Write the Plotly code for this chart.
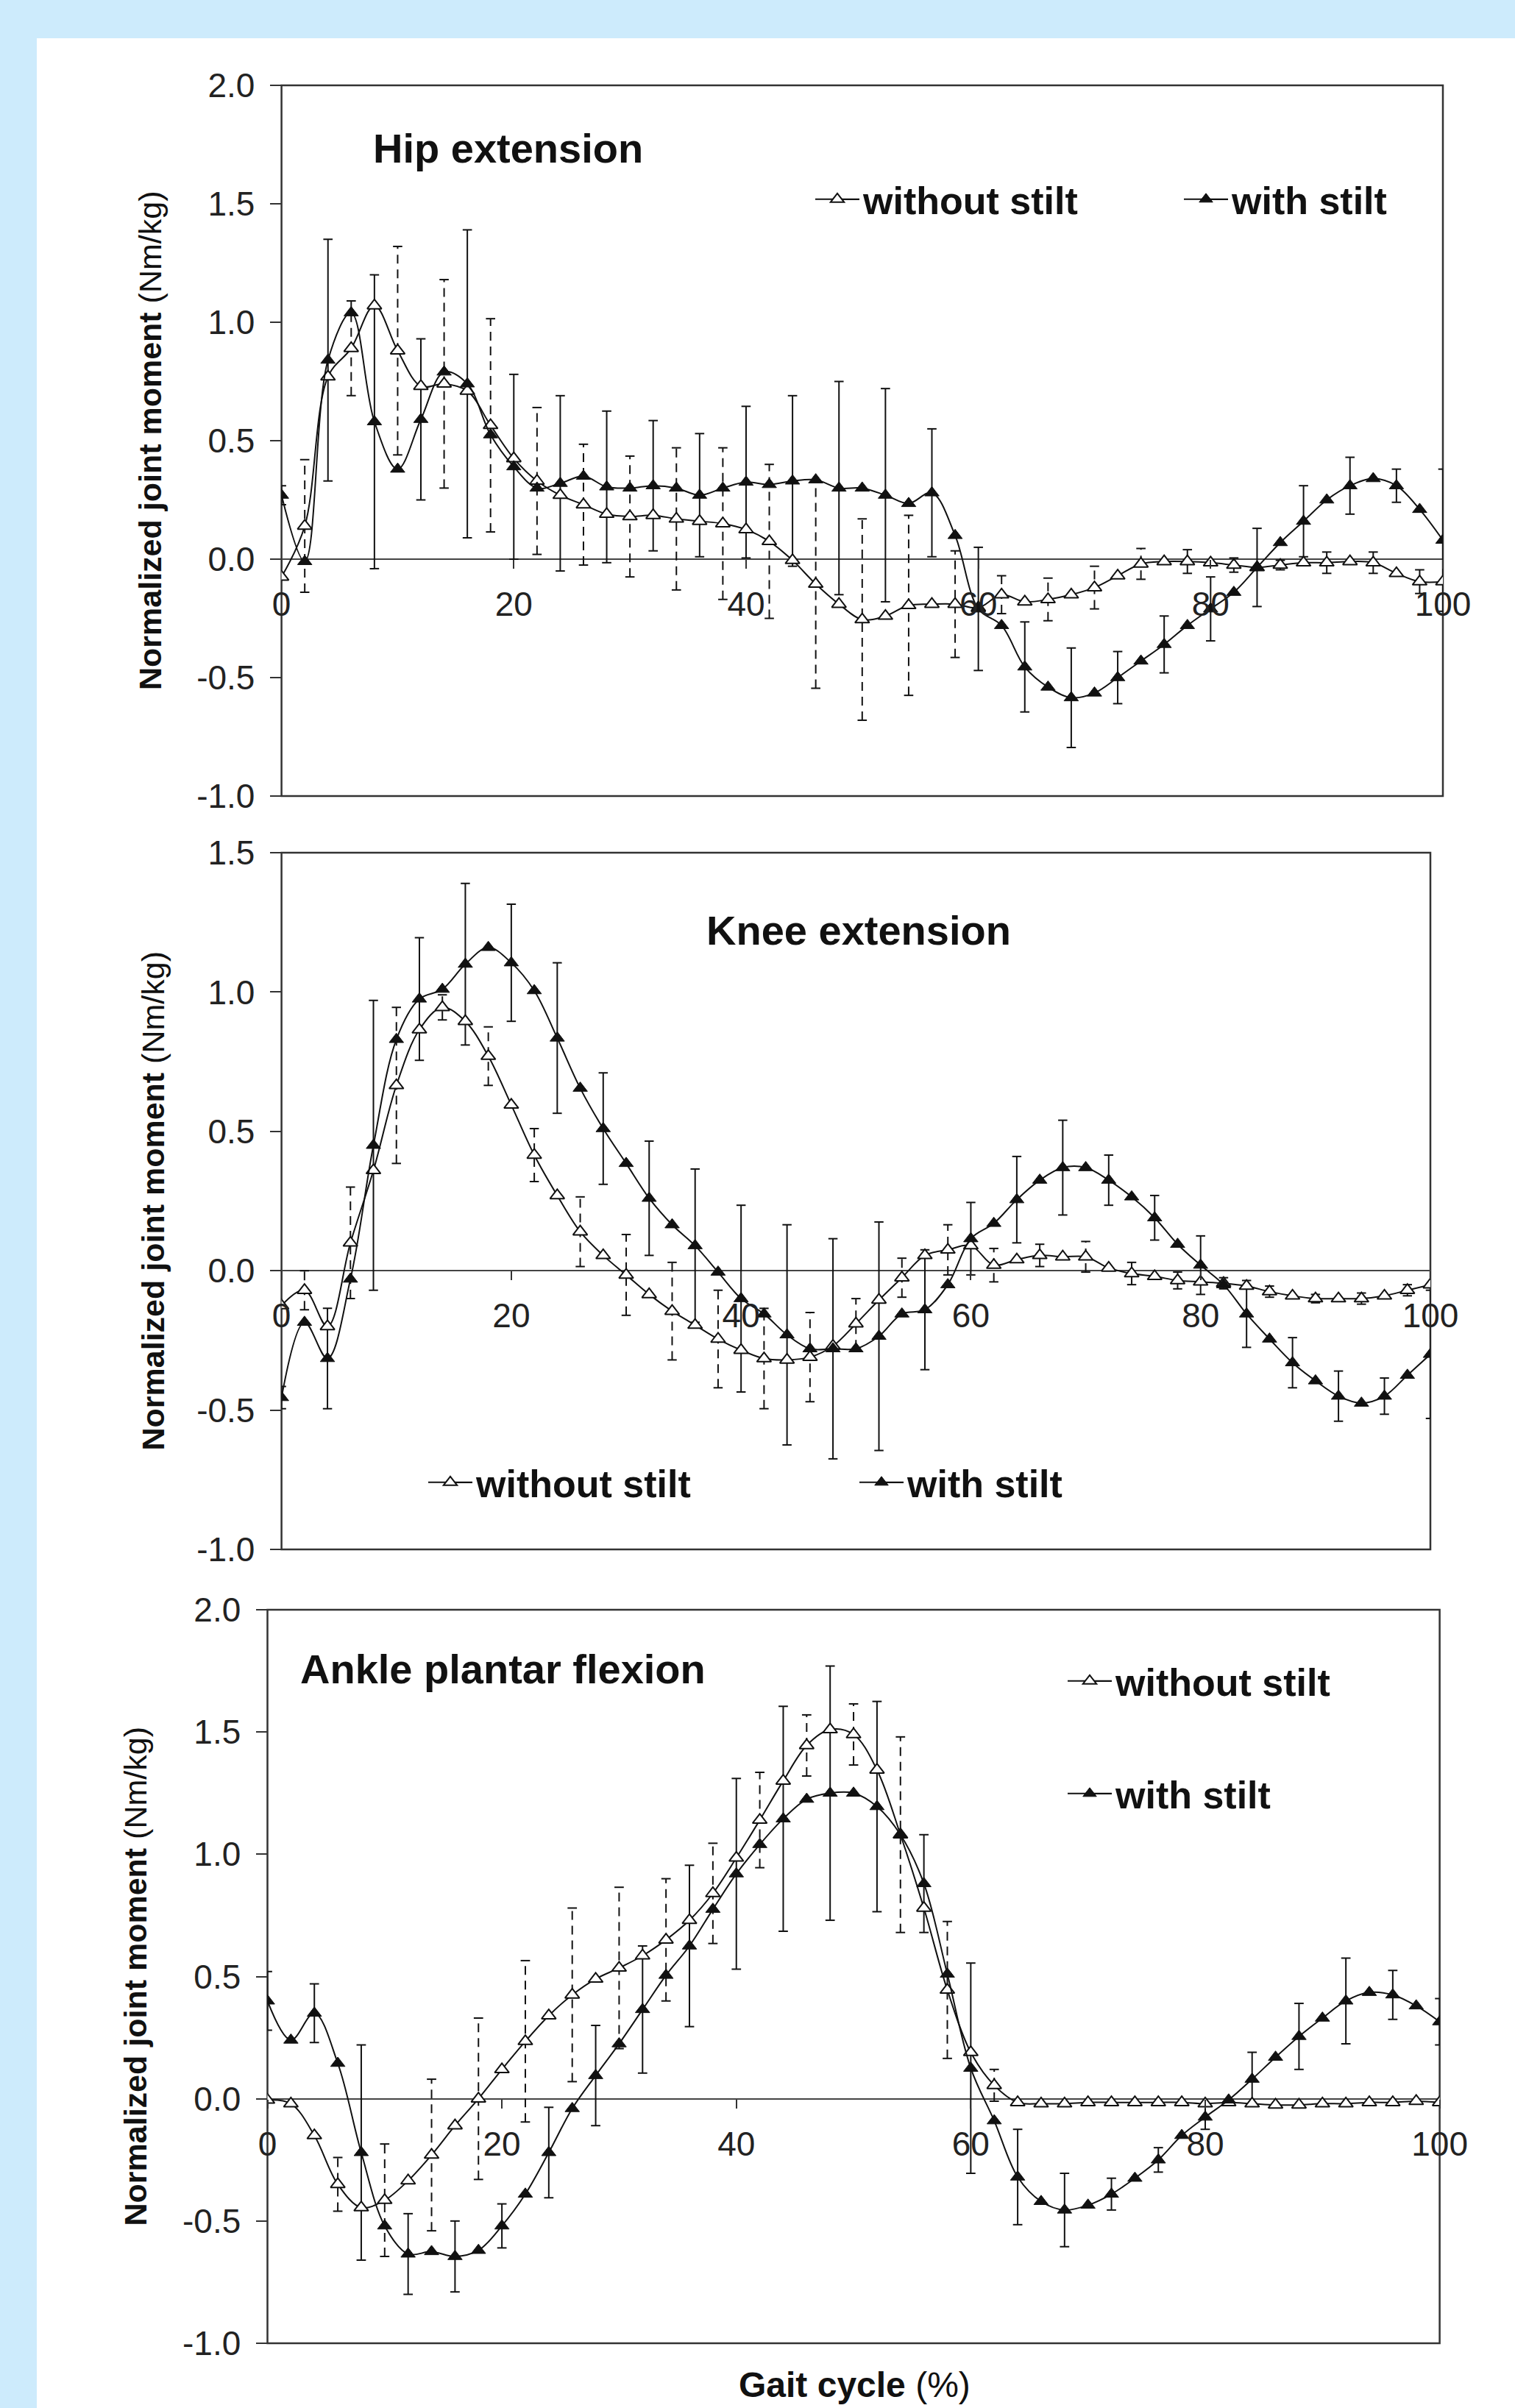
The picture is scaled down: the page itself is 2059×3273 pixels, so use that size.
import plotly.graph_objects as go

W, H = 2059, 3273

# ---------------- data ----------------
gait = list(range(0, 101, 2))          # gait cycle (%) sample points
x_tickvals = [0, 20, 40, 60, 80, 100]
x_ticktext = ["0", "20", "40", "60", "80", "100"]

y_tickvals_a = [-1.0, -0.5, 0.0, 0.5, 1.0, 1.5, 2.0]
y_ticktext_a = ["-1.0", "-0.5", "0.0", "0.5", "1.0", "1.5", "2.0"]
y_tickvals_b = [-1.0, -0.5, 0.0, 0.5, 1.0, 1.5]
y_ticktext_b = ["-1.0", "-0.5", "0.0", "0.5", "1.0", "1.5"]

N = None
# Hip extension
hip_without = [-0.075, 0.14, 0.77, 0.89, 1.07, 0.88, 0.73, 0.74, 0.71, 0.565, 0.425,
               0.33, 0.27, 0.23, 0.19, 0.18, 0.185, 0.17, 0.16, 0.15, 0.125,
               0.075, -0.005, -0.105, -0.19, -0.255, -0.24, -0.195, -0.19, -0.19, -0.205,
               -0.15, -0.18, -0.17, -0.15, -0.12, -0.07, -0.02, -0.01, -0.01, -0.015,
               -0.025, -0.035, -0.025, -0.015, -0.015, -0.01, -0.015, -0.06, -0.095, -0.095]
hip_without_sd = [N, 0.28, N, 0.20, N, 0.44, N, 0.44, N, 0.45, N,
                  0.31, N, 0.255, N, 0.255, N, 0.30, N, 0.32, N,
                  0.325, N, 0.44, N, 0.425, N, 0.38, N, 0.225, N,
                  0.08, N, 0.09, N, 0.09, N, 0.065, N, 0.05, N,
                  0.03, N, 0.02, N, 0.045, N, 0.045, N, 0.05, N]
hip_with = [0.27, -0.01, 0.84, 1.04, 0.58, 0.38, 0.59, 0.79, 0.74, 0.525, 0.39,
            0.30, 0.32, 0.35, 0.305, 0.30, 0.31, 0.30, 0.27, 0.30, 0.325,
            0.315, 0.33, 0.335, 0.30, 0.30, 0.27, 0.235, 0.28, 0.10, -0.21,
            -0.28, -0.455, -0.54, -0.585, -0.565, -0.50, -0.43, -0.36, -0.28, -0.21,
            -0.14, -0.035, 0.07, 0.16, 0.25, 0.31, 0.34, 0.31, 0.21, 0.08]
hip_with_sd = [0.04, N, 0.51, N, 0.62, N, 0.34, N, 0.65, N, 0.39,
               N, 0.37, N, 0.32, N, 0.275, N, 0.26, N, 0.32,
               N, 0.36, N, 0.45, N, 0.45, N, 0.27, N, 0.26,
               N, 0.19, N, 0.21, N, 0.11, N, 0.12, N, 0.135,
               N, 0.165, N, 0.15, N, 0.12, N, 0.07, N, 0.30]

# Knee extension
knee_without = [-0.125, -0.07, -0.20, 0.10, 0.36, 0.665, 0.865, 0.945, 0.895, 0.77, 0.595,
                0.415, 0.27, 0.14, 0.055, -0.015, -0.085, -0.145, -0.195, -0.245, -0.285,
                -0.315, -0.32, -0.31, -0.27, -0.19, -0.105, -0.025, 0.055, 0.075, 0.09,
                0.02, 0.04, 0.055, 0.05, 0.05, 0.01, -0.01, -0.02, -0.035, -0.04,
                -0.045, -0.055, -0.075, -0.09, -0.10, -0.10, -0.10, -0.09, -0.07, -0.05]
knee_without_sd = [N, 0.07, N, 0.20, N, 0.28, N, 0.045, N, 0.105, N,
                   0.095, N, 0.125, N, 0.145, N, 0.175, N, 0.175, N,
                   0.18, N, 0.16, N, 0.09, N, 0.07, N, 0.09, N,
                   0.06, N, 0.04, N, 0.055, N, 0.04, N, 0.03, N,
                   0.02, N, 0.02, N, 0.015, N, 0.02, N, 0.02, N]
knee_with = [-0.455, -0.185, -0.315, -0.03, 0.45, 0.83, 0.975, 1.01, 1.10, 1.16, 1.105,
             1.005, 0.835, 0.655, 0.51, 0.385, 0.26, 0.165, 0.09, -0.005, -0.10,
             -0.155, -0.23, -0.28, -0.28, -0.28, -0.235, -0.155, -0.14, -0.05, 0.115,
             0.17, 0.255, 0.325, 0.37, 0.37, 0.325, 0.265, 0.19, 0.095, 0.02,
             -0.05, -0.155, -0.245, -0.33, -0.395, -0.45, -0.475, -0.45, -0.375, -0.30]
knee_with_sd = [0.04, N, 0.18, N, 0.52, N, 0.22, N, 0.29, N, 0.21,
                N, 0.27, N, 0.20, N, 0.205, N, 0.275, N, 0.335,
                N, 0.395, N, 0.395, N, 0.41, N, 0.215, N, 0.13,
                N, 0.155, N, 0.17, N, 0.09, N, 0.08, N, 0.105,
                N, 0.12, N, 0.09, N, 0.09, N, 0.065, N, 0.23]

# Ankle plantar flexion
ankle_without = [-0.005, -0.02, -0.15, -0.35, -0.445, -0.415, -0.335, -0.23, -0.11, 0.0, 0.12,
                 0.235, 0.34, 0.425, 0.49, 0.535, 0.585, 0.65, 0.73, 0.84, 0.985,
                 1.14, 1.30, 1.445, 1.51, 1.49, 1.345, 1.08, 0.78, 0.445, 0.19,
                 0.055, -0.015, -0.02, -0.02, -0.015, -0.015, -0.015, -0.015, -0.015, -0.02,
                 -0.015, -0.02, -0.025, -0.025, -0.02, -0.02, -0.015, -0.015, -0.01, -0.015]
ankle_without_sd = [N, N, N, 0.11, N, 0.23, N, 0.31, N, 0.33, N,
                    0.33, N, 0.355, N, 0.33, N, 0.25, N, 0.205, N,
                    0.195, N, 0.125, N, 0.125, N, 0.40, N, 0.28, N,
                    0.065, N, N, N, N, N, N, N, N, N,
                    N, N, N, N, N, N, N, N, N, N]
ankle_with = [0.40, 0.24, 0.35, 0.145, -0.22, -0.52, -0.635, -0.625, -0.645, -0.62, -0.52,
              -0.39, -0.22, -0.04, 0.095, 0.225, 0.365, 0.505, 0.625, 0.775, 0.92,
              1.04, 1.145, 1.225, 1.25, 1.25, 1.195, 1.08, 0.88, 0.51, 0.125,
              -0.09, -0.32, -0.42, -0.455, -0.435, -0.39, -0.325, -0.25, -0.15, -0.075,
              -0.005, 0.08, 0.17, 0.255, 0.33, 0.40, 0.435, 0.425, 0.38, 0.315]
ankle_with_sd = [0.12, N, 0.12, N, 0.44, N, 0.165, N, 0.145, N, 0.09,
                 N, 0.185, N, 0.205, N, 0.26, N, 0.33, N, 0.39,
                 N, 0.46, N, 0.52, N, 0.43, N, 0.20, N, 0.43,
                 N, 0.195, N, 0.15, N, 0.065, N, 0.05, N, 0.05,
                 N, 0.11, N, 0.135, N, 0.175, N, 0.10, N, 0.095]

panel_titles = ["Hip extension", "Knee extension", "Ankle plantar flexion"]
series_names = ["without stilt", "with stilt"]
y_title = "<b>Normalized joint moment</b> (Nm/kg)"
x_title = "<b>Gait cycle</b> (%)"

# ---------------- layout geometry (pixels) ----------------
panels = [
    dict(box=(382.6, 1961.0, 116.0, 1082.0), yr=(-1.0, 2.0), tv=y_tickvals_a, tt=y_ticktext_a,
         wo=hip_without, wo_sd=hip_without_sd, wi=hip_with, wi_sd=hip_with_sd,
         title_xy=(505, 202), ytitle_x=204,
         leg=[(1108, 271), (1609, 271)]),
    dict(box=(382.6, 1944.0, 1159.0, 2106.0), yr=(-1.0, 1.5), tv=y_tickvals_b, tt=y_ticktext_b,
         wo=knee_without, wo_sd=knee_without_sd, wi=knee_with, wi_sd=knee_with_sd,
         title_xy=(958, 1264), ytitle_x=208,
         leg=[(582, 2015), (1168, 2015)]),
    dict(box=(363.5, 1956.6, 2188.0, 3185.0), yr=(-1.0, 2.0), tv=y_tickvals_a, tt=y_ticktext_a,
         wo=ankle_without, wo_sd=ankle_without_sd, wi=ankle_with, wi_sd=ankle_with_sd,
         title_xy=(406, 2268), ytitle_x=184,
         leg=[(1451, 2285), (1451, 2438)]),
]

FONT = "Liberation Sans, Arial, sans-serif"
INK = "#111111"
CAP = 0.4
MSIZE = 17


def err_segments(xs, ys, es):
    vx, vy, cx, cy = [], [], [], []
    for x, y, e in zip(xs, ys, es):
        if not e:
            continue
        vx += [x, x, None]
        vy += [y - e, y + e, None]
        cx += [x - CAP, x + CAP, None, x - CAP, x + CAP, None]
        cy += [y + e, y + e, None, y - e, y - e, None]
    return vx, vy, cx, cy


fig = go.Figure()
layout = dict(
    width=W, height=H, margin=dict(l=0, r=0, t=0, b=0, pad=0, autoexpand=False),
    paper_bgcolor="#cdebfc", plot_bgcolor="white",
    showlegend=True, font=dict(family=FONT, color=INK),
    shapes=[dict(type="rect", xref="paper", yref="paper", x0=50 / W, x1=1, y0=0, y1=1 - 52 / H,
                 fillcolor="white", line=dict(width=0), layer="below")],
    annotations=[],
)

leg_count = 0
for i, p in enumerate(panels):
    k = "" if i == 0 else str(i + 1)
    xa, ya = "x" + k, "y" + k
    l, r, t, b = p["box"]
    d_x = [l / W, r / W]
    d_y = [1 - b / H, 1 - t / H]
    y0, y1 = p["yr"]
    zero_pos = d_y[0] + (0 - y0) / (y1 - y0) * (d_y[1] - d_y[0])

    layout["xaxis" + k] = dict(domain=d_x, range=[0, 100], anchor="free", position=zero_pos,
                               tickmode="array", tickvals=x_tickvals, ticktext=x_ticktext,
                               ticks="outside", ticklen=12, tickwidth=1.5, tickcolor="#333",
                               showline=False, showgrid=False, zeroline=False,
                               tickfont=dict(size=46, family=FONT, color="#222"),
                               ticklabelstandoff=9)
    layout["yaxis" + k] = dict(domain=d_y, range=[y0, y1], anchor=xa,
                               tickmode="array", tickvals=p["tv"], ticktext=p["tt"],
                               ticks="outside", ticklen=15, tickwidth=1.5, tickcolor="#333",
                               showline=False, showgrid=False,
                               zeroline=True, zerolinecolor="#444", zerolinewidth=1.5,
                               tickfont=dict(size=46, family=FONT, color="#222"),
                               ticklabelstandoff=11)
    layout["shapes"].append(dict(type="rect", xref=xa + " domain", yref=ya + " domain",
                                 x0=0, x1=1, y0=0, y1=1, line=dict(color="#333", width=2.5),
                                 layer="below"))

    # error bars: without (dashed), with (solid)
    vx, vy, cx, cy = err_segments(gait, p["wo"], p["wo_sd"])
    fig.add_trace(go.Scatter(x=vx, y=vy, mode="lines", xaxis=xa, yaxis=ya, showlegend=False,
                             line=dict(color=INK, width=2, dash="12px,8px"), hoverinfo="skip"))
    fig.add_trace(go.Scatter(x=cx, y=cy, mode="lines", xaxis=xa, yaxis=ya, showlegend=False,
                             line=dict(color=INK, width=2), hoverinfo="skip"))
    vx, vy, cx, cy = err_segments(gait, p["wi"], p["wi_sd"])
    fig.add_trace(go.Scatter(x=vx + [None] + cx, y=vy + [None] + cy, mode="lines", xaxis=xa,
                             yaxis=ya, showlegend=False, line=dict(color=INK, width=2),
                             hoverinfo="skip"))

    styles = [dict(symbol="triangle-up", color="white", size=MSIZE, line=dict(color=INK, width=2)),
              dict(symbol="triangle-up", color=INK, size=MSIZE, line=dict(color=INK, width=1))]
    for j, (ys, name) in enumerate([(p["wo"], series_names[0]), (p["wi"], series_names[1])]):
        leg_count += 1
        lname = "legend" if leg_count == 1 else "legend" + str(leg_count)
        lx, ly = p["leg"][j]
        layout[lname] = dict(x=(lx - 5) / W, y=1 - ly / H, xanchor="left", yanchor="middle",
                             orientation="h", bgcolor="rgba(0,0,0,0)", borderwidth=0,
                             itemwidth=60,
                             font=dict(size=52, family=FONT, color=INK, weight="bold"))
        # right half of the legend key line (Plotly draws only the left half)
        layout["shapes"].append(dict(type="line", xref="paper", yref="paper",
                                     x0=(lx + 29) / W, x1=(lx + 60) / W,
                                     y0=1 - ly / H, y1=1 - ly / H,
                                     line=dict(color=INK, width=2), layer="above"))
        fig.add_trace(go.Scatter(x=gait, y=ys, name=name, mode="lines+markers",
                                 xaxis=xa, yaxis=ya, legend=lname,
                                 line=dict(color=INK, width=2, shape="spline", smoothing=1.0),
                                 marker=styles[j]))

    # panel title
    tx, ty = p["title_xy"]
    layout["annotations"].append(dict(text="<b>" + panel_titles[i] + "</b>", xref="paper",
                                      yref="paper", x=tx / W, y=1 - ty / H, xanchor="left",
                                      yanchor="middle", showarrow=False,
                                      font=dict(size=56, family=FONT, color=INK)))
    # y axis title
    layout["annotations"].append(dict(text=y_title, xref="paper", yref="paper",
                                      x=p["ytitle_x"] / W, y=(d_y[0] + d_y[1]) / 2,
                                      xanchor="center", yanchor="middle", textangle=-90,
                                      showarrow=False, font=dict(size=43, family=FONT, color=INK)))

layout["annotations"].append(dict(text=x_title, xref="paper", yref="paper", x=1161 / W,
                                  y=1 - 3241 / H, xanchor="center", yanchor="middle",
                                  showarrow=False, font=dict(size=48, family=FONT, color=INK)))

fig.update_layout(**layout)
fig.write_html("out.html", config={"displayModeBar": False},
               post_script="document.body.style.margin='0';document.body.style.overflow='hidden';")
